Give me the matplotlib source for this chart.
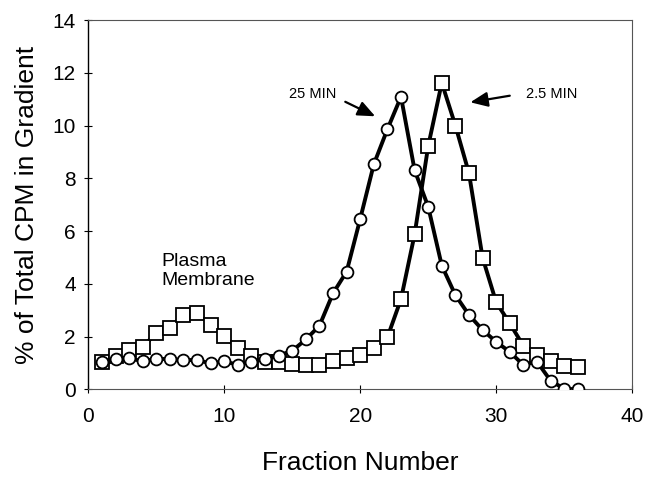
import matplotlib.pyplot as plt

plt.rcParams['font.family'] = ['Liberation Sans', 'DejaVu Sans']

# fraction numbers
fractions = list(range(1, 37))

# 2.5 min (squares)
pct_2_5min = [1.02, 1.26, 1.49, 1.62, 2.12, 2.34, 2.82, 2.90, 2.44, 2.02,
              1.55, 1.26, 1.05, 1.05, 0.95, 0.92, 0.92, 1.08, 1.17, 1.30,
              1.55, 1.97, 3.42, 5.87, 9.22, 11.62, 10.0, 8.19, 4.99, 3.30,
              2.50, 1.65, 1.30, 1.07, 0.88, 0.85]

# 25 min (circles)
pct_25min = [1.03, 1.15, 1.17, 1.07, 1.15, 1.15, 1.11, 1.11, 0.98, 1.07,
             0.92, 1.05, 1.15, 1.28, 1.46, 1.89, 2.41, 3.64, 4.46, 6.46,
             8.53, 9.86, 11.09, 8.31, 6.92, 4.69, 3.57, 2.82, 2.25, 1.80,
             1.42, 0.92, 1.05, 0.33, 0.02, 0.0]

fig = plt.figure(figsize=(6.47, 4.82), dpi=100)
ax = fig.add_axes([0.1365, 0.1923, 0.8405, 0.7662])

ax.plot(fractions, pct_2_5min, color='black', lw=2.8, marker='s', ms=10,
        mfc='white', mec='black', mew=1.3, zorder=2)
ax.plot(fractions, pct_25min, color='black', lw=2.8, marker='o', ms=8.5,
        mfc='white', mec='black', mew=1.3, zorder=3)

ax.set_xlim(0, 40)
ax.set_ylim(0, 14)
ax.set_xticks([0, 10, 20, 30, 40])
ax.set_yticks(range(0, 15, 2))
ax.tick_params(direction='inout', length=6, width=0.8, labelsize=15)
ax.tick_params(axis='x', pad=10)
ax.tick_params(axis='y', pad=6)

for s in ['top', 'right', 'bottom']:
    ax.spines[s].set_color('#555555')
    ax.spines[s].set_linewidth(0.8)
ax.spines['left'].set_linewidth(1.0)

ax.set_xlabel('Fraction Number', fontsize=19, labelpad=18)
ax.set_ylabel('% of Total CPM in Gradient', fontsize=19, labelpad=10)

ax.text(5.4, 4.5, 'Plasma\nMembrane', fontsize=14, ha='left', va='center',
        linespacing=1.15)

# labels and arrows
arrow_style = dict(arrowstyle='-|>,head_length=0.7,head_width=0.3',
                   color='black', lw=1.6, mutation_scale=15,
                   shrinkA=0, shrinkB=0)
ax.text(16.5, 11.2, '25 MIN', fontsize=10.5, ha='center', va='center')
ax.annotate('', xy=(21.1, 10.35), xytext=(18.9, 10.9), arrowprops=arrow_style)
ax.text(34.1, 11.2, '2.5 MIN', fontsize=10.5, ha='center', va='center')
ax.annotate('', xy=(28.1, 10.88), xytext=(31.0, 11.13), arrowprops=arrow_style)

fig.savefig('out.png', dpi=100)
